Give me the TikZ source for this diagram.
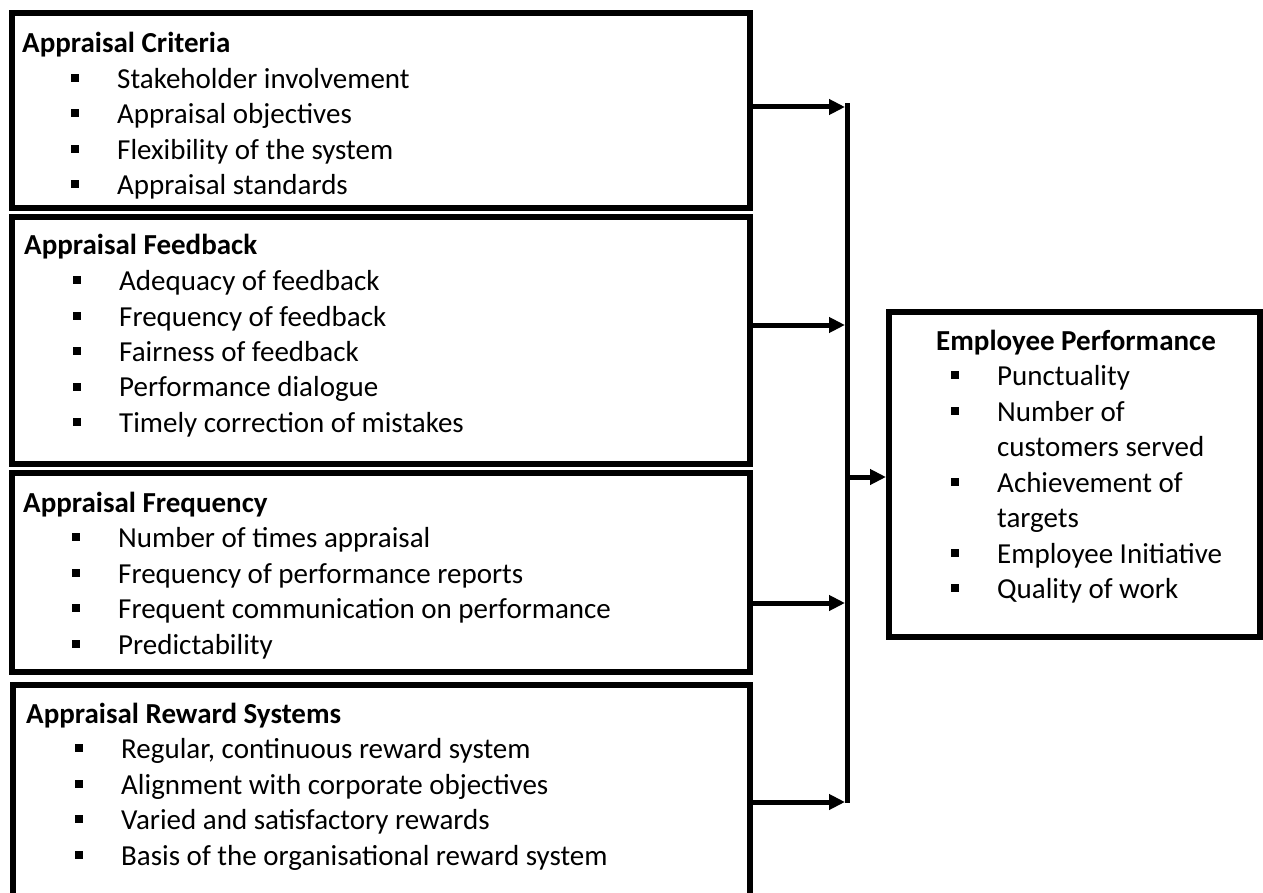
\documentclass[tikz,border=0pt]{standalone}
\usepackage{fontspec}
\setmainfont{Carlito}
\usetikzlibrary{arrows.meta}

% square list bullet and list lines
\newcommand{\bul}{\rule[6.5pt]{8pt}{8pt}}
\newcommand{\itm}[1]{\makebox[95pt][l]{\hspace*{49pt}\bul}#1}
\newcommand{\eitm}[1]{\makebox[61pt][l]{\hspace*{15pt}\bul}#1}

\tikzset{
  box/.style={draw=black, line width=6.5pt, rectangle, inner sep=0pt, outer sep=0pt, anchor=north west},
  txt/.style={anchor=base west, inner sep=0pt, font=\fontsize{29pt}{35.5pt}\selectfont},
  conn/.style={draw=black, line width=5pt, -{Triangle[length=16pt,width=15pt]}},
  barnode/.style={fill=black, inner sep=0pt, outer sep=0pt, minimum width=5pt, anchor=north}
}

\begin{document}
\begin{tikzpicture}[x=1pt, y=-1pt]
  \clip (0,0) rectangle (1263,893);
  \fill[white] (0,0) rectangle (1263,893);

  % four input boxes
  \node[box, minimum width=738pt, minimum height=195pt] (b1) at (12,13) {};
  \node[box, minimum width=738pt, minimum height=247pt] (b2) at (12,217) {};
  \node[box, minimum width=738pt, minimum height=199pt] (b3) at (12,473) {};
  \node[box, minimum width=737pt, minimum height=250pt] (b4) at (13,685) {};

  % outcome box
  \node[box, minimum width=371pt, minimum height=325pt] (emp) at (889,312) {};

  % collecting bar
  \node[barnode, minimum height=700pt] (bar) at (847,103) {};

  % arrow ends on the bar
  \coordinate (a1) at (845,107);
  \coordinate (a2) at (845,325);
  \coordinate (a3) at (845,603);
  \coordinate (a4) at (845,802);
  \coordinate (a0) at (847,477);

  \draw[conn] (b1.east |- a1) -- (a1);
  \draw[conn] (b2.east |- a2) -- (a2);
  \draw[conn] (b3.east |- a3) -- (a3);
  \draw[conn] (b4.east |- a4) -- (a4);
  \draw[conn, shorten >=3pt] (a0) -- (emp.west |- a0);

  % box texts
  \node[txt] (t1) at (22,53) {\parbox[t]{700pt}{%
    \textbf{Appraisal Criteria}\\
    \itm{Stakeholder involvement}\\
    \itm{Appraisal objectives}\\
    \itm{Flexibility of the system}\\
    \itm{Appraisal standards}}};

  \node[txt] (t2) at (24,255) {\parbox[t]{700pt}{%
    \textbf{Appraisal Feedback}\\
    \itm{Adequacy of feedback}\\
    \itm{Frequency of feedback}\\
    \itm{Fairness of feedback}\\
    \itm{Performance dialogue}\\
    \itm{Timely correction of mistakes}}};

  \node[txt] (t3) at (23,512) {\parbox[t]{700pt}{%
    \textbf{Appraisal Frequency}\\
    \itm{Number of times appraisal}\\
    \itm{Frequency of performance reports}\\
    \itm{Frequent communication on performance}\\
    \itm{Predictability}}};

  \node[txt] (t4) at (26,723) {\parbox[t]{700pt}{%
    \textbf{Appraisal Reward Systems}\\
    \itm{Regular, continuous reward system}\\
    \itm{Alignment with corporate objectives}\\
    \itm{Varied and satisfactory rewards}\\
    \itm{Basis of the organisational reward system}}};

  \node[txt] (t5) at (936,350) {\parbox[t]{320pt}{%
    \textbf{Employee Performance}\\
    \eitm{Punctuality}\\
    \eitm{Number of}\\
    \hspace*{61pt}customers served\\
    \eitm{Achievement of}\\
    \hspace*{61pt}targets\\
    \eitm{Employee Initiative}\\
    \eitm{Quality of work}}};
\end{tikzpicture}
\end{document}
